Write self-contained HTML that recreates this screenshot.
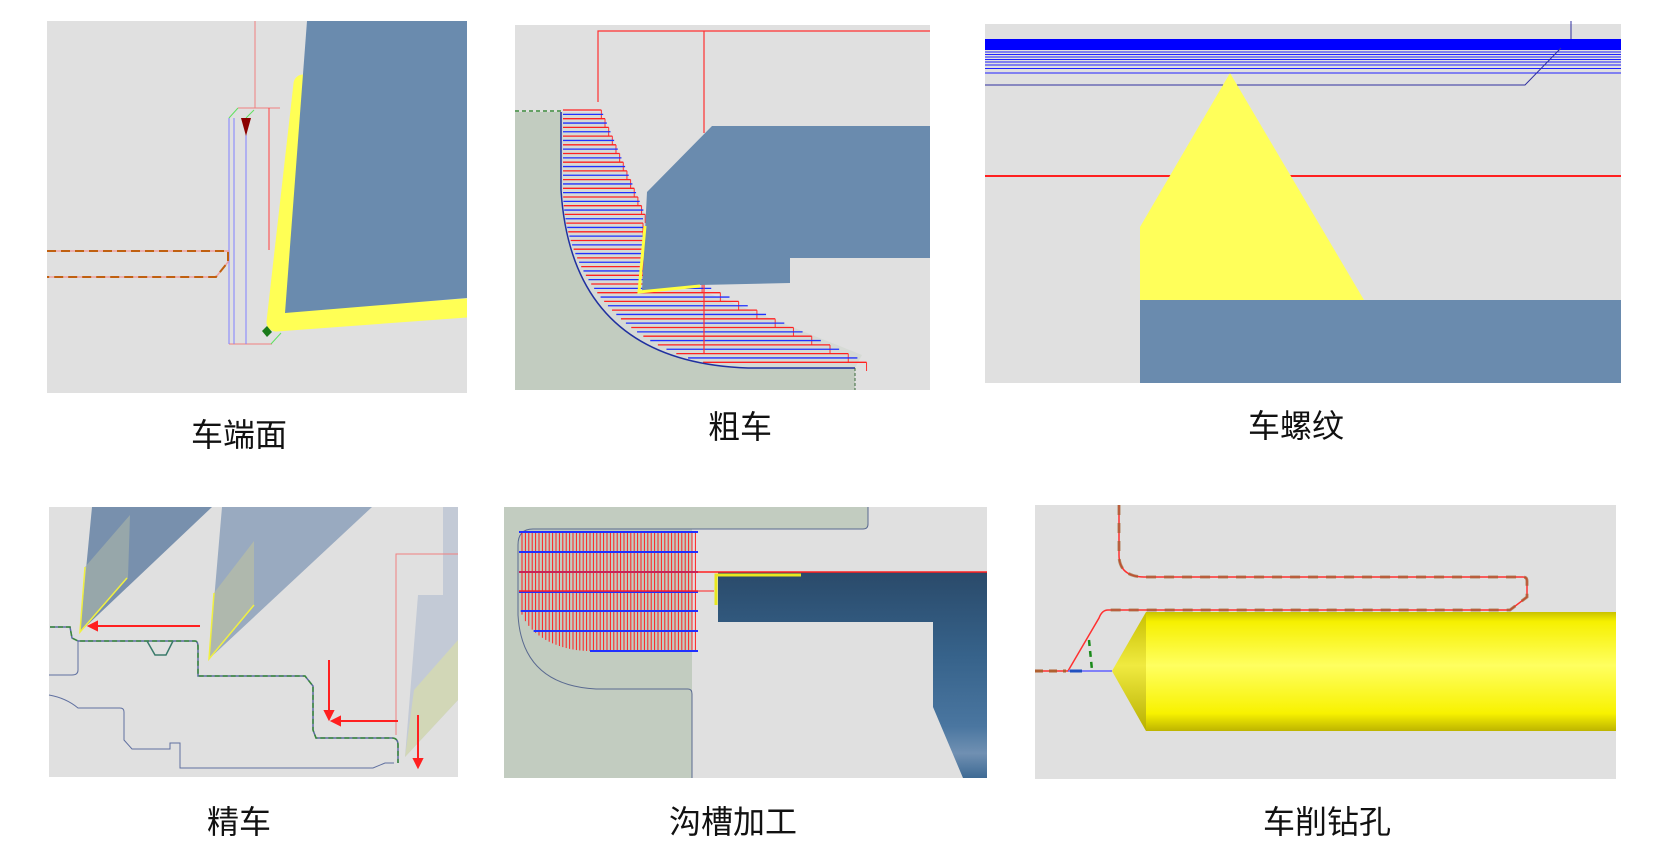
<!DOCTYPE html>
<html><head><meta charset="utf-8"><style>
html,body{margin:0;padding:0;background:#fff;width:1677px;height:863px;overflow:hidden}
svg{display:block}
.lb{font-family:"Liberation Sans","Noto Sans CJK SC",sans-serif;font-size:32px;fill:#111;text-anchor:middle}
</style></head><body>
<svg id="s" width="1677" height="863" viewBox="0 0 1677 863" xmlns="http://www.w3.org/2000/svg">
<defs>
<clipPath id="c1"><rect x="47" y="21" width="420" height="372"/></clipPath>
<linearGradient id="cyl" x1="0" y1="0" x2="0" y2="1">
<stop offset="0" stop-color="#c9c200"/><stop offset="0.08" stop-color="#f6f000"/><stop offset="0.45" stop-color="#ffff60"/><stop offset="0.85" stop-color="#f8f200"/><stop offset="1" stop-color="#bdb400"/></linearGradient>
<linearGradient id="cone" x1="0" y1="0" x2="0" y2="1">
<stop offset="0" stop-color="#c8c000"/><stop offset="0.45" stop-color="#f0ea40"/><stop offset="1" stop-color="#b8b000"/></linearGradient>
<linearGradient id="tb" x1="0" y1="0" x2="0" y2="1">
<stop offset="0" stop-color="#2a4a6a"/><stop offset="0.4" stop-color="#36628a"/><stop offset="0.75" stop-color="#4a76a0"/><stop offset="0.88" stop-color="#7090b2"/><stop offset="1" stop-color="#3e6a94"/></linearGradient>
</defs>

<!-- Panel 1 -->
<rect x="47" y="21" width="420" height="372" fill="#e0e0e0"/>
<g clip-path="url(#c1)">
<path d="M303,84 L276,322 L480,307" fill="none" stroke="#ffff55" stroke-width="19" stroke-linejoin="round" stroke-linecap="round"/>
<polygon points="307,21 467,21 467,298 285,313" fill="#6a8bae"/>
</g>
<line x1="255" y1="21" x2="255" y2="108" stroke="#f08080" stroke-width="1"/>
<line x1="238" y1="108" x2="280" y2="108" stroke="#f08080"/>
<line x1="229" y1="344" x2="272" y2="344" stroke="#f08080"/>
<line x1="229" y1="118" x2="229" y2="344" stroke="#8080ff"/>
<line x1="234" y1="118" x2="234" y2="344" stroke="#8080ff"/>
<line x1="246" y1="118" x2="246" y2="344" stroke="#8080ff"/>
<line x1="269" y1="108" x2="269" y2="250" stroke="#ff4040"/>
<line x1="229" y1="118" x2="238" y2="108" stroke="#60e060"/>
<line x1="246" y1="118" x2="254" y2="110" stroke="#60e060"/>
<line x1="271" y1="344" x2="281" y2="333" stroke="#60e060"/>
<polygon points="241,118 251,118 246,136" fill="#8b0000"/>
<polygon points="262,331 267,326 272,332 267,337" fill="#1a7a1a"/>
<path d="M47,251 L228,251 L228,262 L216,277 L47,277" fill="none" stroke="#f0a0a0" stroke-width="1.5"/>
<path d="M47,251 L228,251 L228,262 L216,277 L47,277" fill="none" stroke="#c06010" stroke-width="2" stroke-dasharray="9,5"/>

<!-- Panel 2 -->
<rect x="515" y="25" width="415" height="365" fill="#e0e0e0"/>
<path d="M515,112 L561,112 L561,190 Q572,362 748,368 L855,368 L855,390 L515,390 Z" fill="#c2ccc0"/>
<path d="M561,112 L600,112 L645,215 L643,290 L700,290 L862,355 L855,368 L748,368 Q572,362 561,190 Z" fill="#d3d8d2" opacity="0.8"/>
<g id="hatch2"></g>
<path d="M561,112 L561,190 Q572,362 748,368 L855,368" fill="none" stroke="#2030a0" stroke-width="1.5"/>
<path d="M515,111 L561,111" stroke="#3a8a3a" stroke-dasharray="4,3" stroke-width="1.5"/>
<line x1="855" y1="368" x2="855" y2="390" stroke="#3a6a3a" stroke-dasharray="3,2"/>
<path d="M598,102 L598,31 L930,31 M704,31 L704,133" fill="none" stroke="#ff3030" stroke-width="1.2"/>
<line x1="704" y1="283" x2="704" y2="353" stroke="#ff3030" stroke-width="1.2"/>
<polygon points="712,126 930,126 930,258 790,258 790,283 700,285 642,291 647,192" fill="#6a8bae"/>
<path d="M645,226 L639,292 L700,286" fill="none" stroke="#ffff40" stroke-width="3"/>

<!-- Panel 3 -->
<rect x="985" y="24" width="636" height="359" fill="#e0e0e0"/>
<rect x="985" y="39" width="636" height="11" fill="#0000ff"/>
<g stroke="#2020ff" stroke-width="1">
<line x1="985" y1="52" x2="1621" y2="52"/><line x1="985" y1="54.5" x2="1621" y2="54.5"/><line x1="985" y1="57" x2="1621" y2="57"/><line x1="985" y1="59.5" x2="1621" y2="59.5"/><line x1="985" y1="62" x2="1621" y2="62"/><line x1="985" y1="65" x2="1621" y2="65"/><line x1="985" y1="68.5" x2="1621" y2="68.5"/><line x1="985" y1="73" x2="1621" y2="73"/></g>
<path d="M985,85 L1525,85 L1561,48 M1571,21 L1571,39" fill="none" stroke="#3030a0" stroke-width="1"/>
<line x1="985" y1="176" x2="1621" y2="176" stroke="#ff2020" stroke-width="2"/>
<polygon points="1230,73 1364,300 1140,300 1140,227" fill="#ffff5a"/>
<rect x="1140" y="300" width="481" height="83" fill="#6a8bae"/>

<!-- Panel 4 -->
<rect x="49" y="507" width="409" height="270" fill="#e0e0e0"/>
<polygon points="92,507 212,507 80,632" fill="#7890ad"/>
<polygon points="85,567 130,515 128,578 80,632" fill="#a4b0a8" opacity="0.7"/>
<path d="M85,567 L80,632 L127,578" fill="none" stroke="#f0f040" stroke-width="1.5"/>
<polygon points="222,507 372,507 209,659" fill="#99aac0"/>
<polygon points="214,593 254,541 254,605 209,659" fill="#b4bca8" opacity="0.8"/>
<path d="M214,593 L209,659 L254,605" fill="none" stroke="#f0f040" stroke-width="1.5"/>
<polygon points="443,507 458,507 458,700 405,757 418,595 443,595" fill="#c3cad6"/>
<polygon points="414,690 458,640 458,700 405,757" fill="#d4d8b4" opacity="0.9"/>
<path d="M396,735 L396,554 L458,554" fill="none" stroke="#f08080" stroke-width="1"/>
<g stroke="#ff2020" stroke-width="2" fill="#ff2020">
<line x1="94" y1="626" x2="200" y2="626"/><polygon points="89,626 97,622 97,630"/>
<line x1="337" y1="721" x2="398" y2="721"/><polygon points="332,721 340,717 340,725"/>
<line x1="329" y1="660" x2="329" y2="714"/><polygon points="329,719 325,711 333,711"/>
<line x1="418" y1="715" x2="418" y2="762"/><polygon points="418,767 414,759 422,759"/></g>
<path d="M50,627 L70,627 L72,638 L78,641 L195,641 Q198,641 198,647 L198,676 L305,676 L313,686 L313,730 L316,738 L392,738 Q398,738 398,745 L398,763" fill="none" stroke="#5a6aa0" stroke-width="1.5"/>
<path d="M50,627 L70,627 L72,638 L78,641 L195,641 Q198,641 198,647 L198,676 L305,676 L313,686 L313,730 L316,738 L392,738 Q398,738 398,745 L398,763" fill="none" stroke="#3a8a3a" stroke-width="1.5" stroke-dasharray="5,3"/>
<path d="M147,641 L155,655 L166,655 L173,641" fill="none" stroke="#3a7a6a" stroke-width="1.5"/>
<path d="M49,675 L72,675 Q78,675 78,670 L78,641 M49,695 Q66,698 78,708 L120,708 Q124,708 124,712 L124,740 L132,749 L170,749 L170,743 L180,743 L180,768 L373,768 L385,763 L394,763" fill="none" stroke="#6070a0" stroke-width="1"/>

<!-- Panel 5 -->
<rect x="504" y="507" width="483" height="271" fill="#e0e0e0"/>
<path d="M504,507 L868,507 L868,524 Q868,529 863,529 L692,529 L692,778 L504,778 Z" fill="#c2ccc0"/>
<path d="M868,507 L868,524 Q868,529 863,529 L533,529 Q518,529 518,545 L518,615 Q522,685 596,689 L688,689 Q692,689 692,694 L692,778" fill="none" stroke="#5a6a90" stroke-width="1"/>
<g id="hatch5"></g>
<polygon points="718,572 987,572 987,778 963,778 933,707 933,622 718,622" fill="url(#tb)"/>
<line x1="698" y1="572" x2="987" y2="572" stroke="#ff2020" stroke-width="1.5"/>
<line x1="698" y1="591" x2="714" y2="591" stroke="#ff2020" stroke-width="1"/>
<path d="M716,605 L716,575 L801,575" fill="none" stroke="#e8e820" stroke-width="3"/>

<!-- Panel 6 -->
<rect x="1035" y="505" width="581" height="274" fill="#e0e0e0"/>
<polygon points="1146,612 1146,731 1112,671" fill="url(#cone)"/>
<rect x="1146" y="612" width="470" height="119" fill="url(#cyl)"/>
<path d="M1119,505 L1119,555 Q1119,577 1145,577 L1523,577 Q1527,577 1527,581 L1527,597 L1510,610 L1108,610 Q1102,610 1099,618 L1068,671 L1035,671" fill="none" stroke="#ff3030" stroke-width="1.5"/>
<path d="M1119,505 L1119,555 Q1119,577 1145,577 L1523,577 Q1527,577 1527,581 L1527,597 L1510,610 L1108,610" fill="none" stroke="#a06030" stroke-width="3" stroke-dasharray="10,8" opacity="0.7"/>
<path d="M1035,671 L1066,671" stroke="#b06030" stroke-width="3" stroke-dasharray="8,6"/>
<line x1="1068" y1="671" x2="1112" y2="671" stroke="#6060ff" stroke-width="1.5"/>
<line x1="1070" y1="671" x2="1082" y2="671" stroke="#2050c0" stroke-width="3"/>
<path d="M1089,640 L1092,670" stroke="#1a8a1a" stroke-width="2.5" stroke-dasharray="6,5"/>

<!-- Labels -->
<text class="lb" x="239" y="446">车端面</text>
<text class="lb" x="740" y="438">粗车</text>
<text class="lb" x="1296" y="437">车螺纹</text>
<text class="lb" x="239" y="833">精车</text>
<text class="lb" x="733" y="833">沟槽加工</text>
<text class="lb" x="1327" y="833">车削钻孔</text>
</svg>
<script>
var NS="http://www.w3.org/2000/svg";
function L(g,x1,y1,x2,y2,c,w){var e=document.createElementNS(NS,"line");e.setAttribute("x1",x1);e.setAttribute("y1",y1);e.setAttribute("x2",x2);e.setAttribute("y2",y2);e.setAttribute("stroke",c);e.setAttribute("stroke-width",w||1.2);g.appendChild(e);}
var g2=document.getElementById("hatch2");
function lx(y){if(y<190)return 561;var t=(y-190)/178;return 561+ (748-561)*(1-Math.sqrt(1-t*t));}
function rx(y){if(y<215)return 598+(y-102)*0.42;if(y<283)return 643;return 700+(y-283)*2.1;}
for(var y=110,i=0;y<=366;y+=4.35,i++){
 var a=lx(y)+2,b=rx(y);if(b<=a)continue;
 L(g2,a,y,b,y,i%2?"#2030ff":"#ff2020",1.3);
 if(i%2==0){L(g2,b,y,b,y+8.7,"#ff3030",1);}
}
var g5=document.getElementById("hatch5");
function l5(y){if(y<600)return 519;var t=(y-600)/51;return 519+71*(1-Math.sqrt(Math.max(0,1-t*t)));}
for(var x=522;x<=698;x+=3.4){var yb=651;if(x<590){var u=(590-x)/71;yb=600+51*Math.sqrt(Math.max(0,1-u*u));}L(g5,x,533,x,yb,"#ff2020",1);}
[532,552,572,592,611,631,651].forEach(function(y){L(g5,l5(y),y,698,y,"#2030ff",2);});
[572,591].forEach(function(y){L(g5,519,y,698,y,"#ff2020",1.5);});
</script>
</body></html>
